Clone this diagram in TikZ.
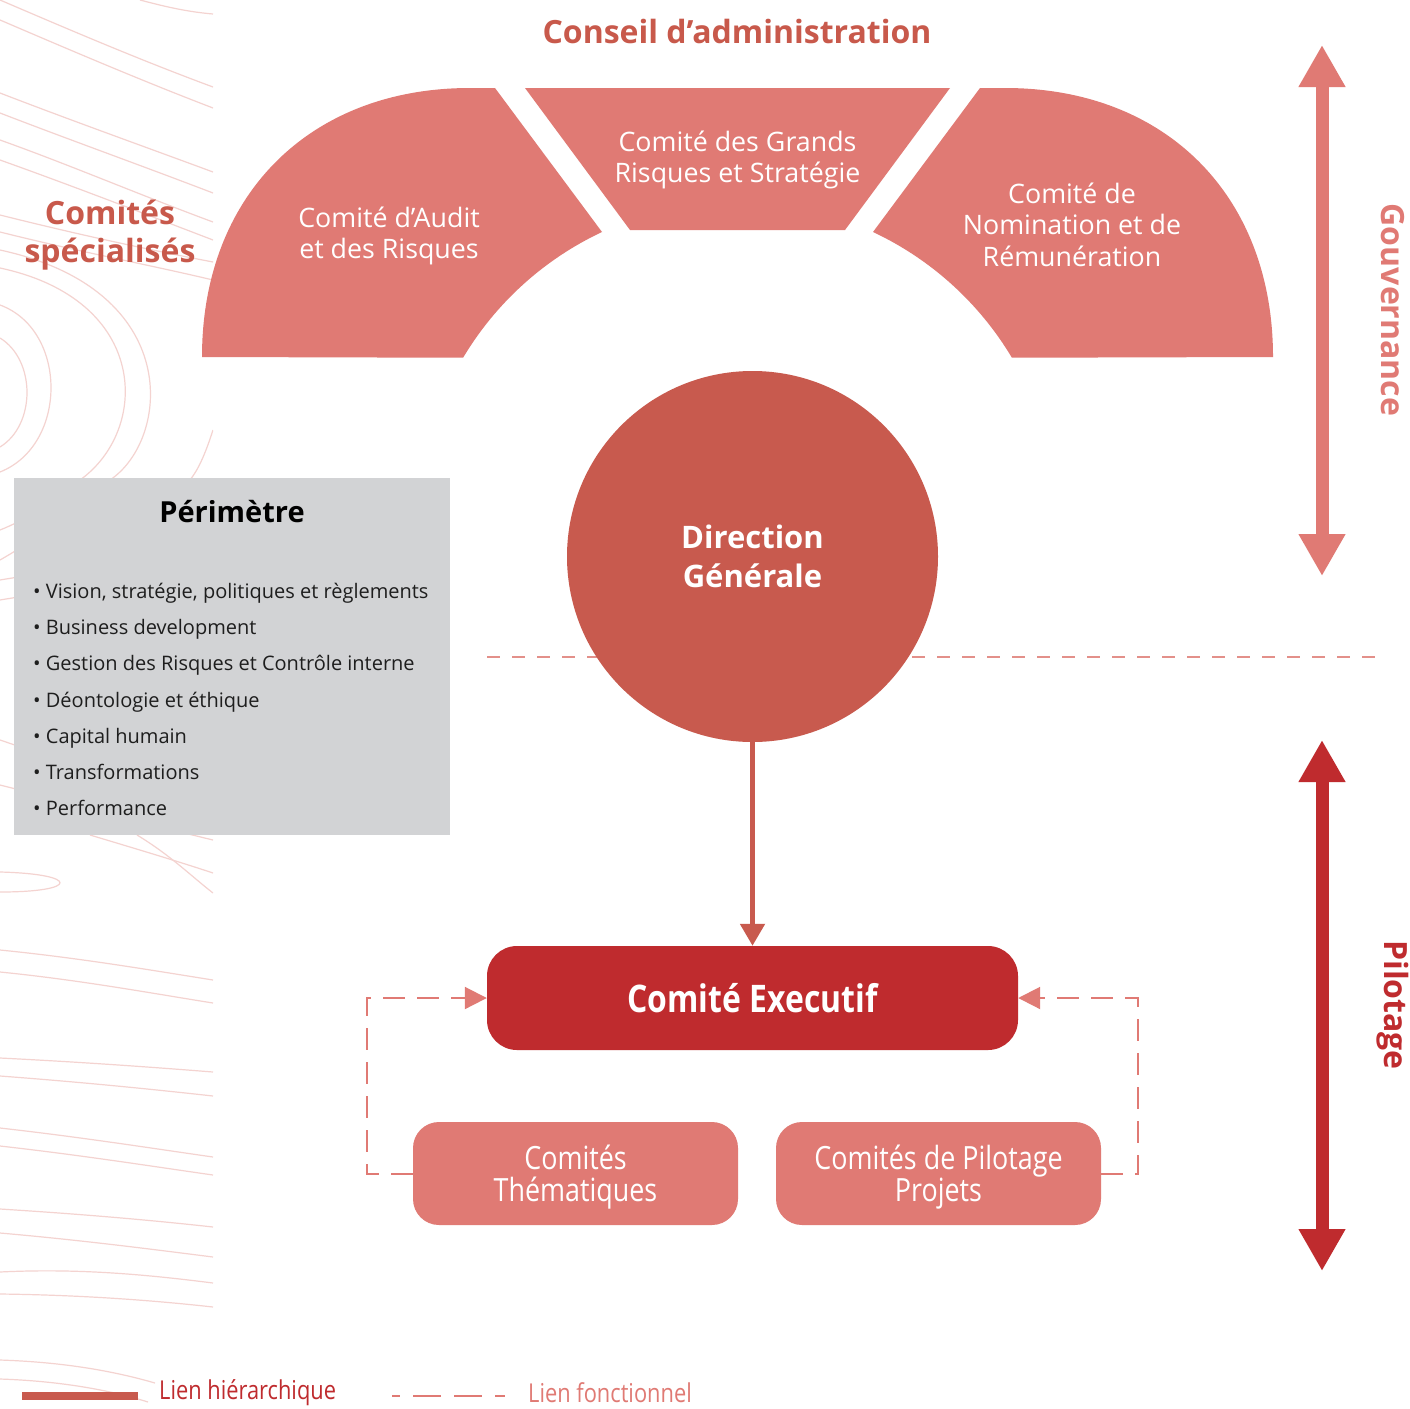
\documentclass[tikz,border=0pt]{standalone}
\usepackage{fontspec}
\setmainfont{Open Sans}
\newfontfamily\condf{Open Sans}[FakeStretch=0.84]
\usetikzlibrary{arrows.meta}
\definecolor{cpink}{HTML}{E07A74}
\definecolor{cdg}{HTML}{C85A4E}
\definecolor{cexec}{HTML}{BF2B2E}
\definecolor{cgrey}{HTML}{D2D3D5}
\definecolor{ccontour}{HTML}{F4D3D0}
\definecolor{ctitle}{HTML}{C8594B}
\definecolor{cdash}{HTML}{E3908A}
\definecolor{ctext}{HTML}{1E1E1E}
\begin{document}
\begin{tikzpicture}[x=1pt,y=-1pt,
  piecetxt/.style={text=white, align=center, inner sep=0, font=\fontsize{26.8}{31.5}\selectfont},
  titletxt/.style={text=ctitle, align=center, inner sep=0, font=\bfseries\fontsize{32}{38}\selectfont},
  itemtxt/.style={text=ctext, anchor=west, inner sep=0, text height=15, text depth=5, font=\fontsize{20}{25}\selectfont},
  subbox/.style={fill=cpink, rounded corners=26, minimum width=325, minimum height=103, inner sep=0},
  subtxt/.style={text=white, align=center, yshift=-4pt, font=\condf\fontsize{32}{32}\selectfont},
  hier/.style={cdg, line width=5, -{Triangle[length=22,width=24]}},
  fonc/.style={cpink, line width=2, dash pattern=on 22 off 12, -{Triangle[length=22,width=22]}},
  bigarrow/.style={line width=13, {Triangle[length=42,width=44]}-{Triangle[length=42,width=44]}},
  sidetxt/.style={rotate=-90, inner sep=0, font=\bfseries\fontsize{32}{38}\selectfont}
]
\useasboundingbox (0,0) rectangle (1410,1408);
\fill[white] (0,0) rectangle (1410,1408);

% decorative contour lines
\begin{scope}[ccontour, line width=1.2]
\clip (0,0) rectangle (213,1408);
\draw (140,0) .. controls (170,8) and (190,12) .. (213,14);
\draw (0,0) .. controls (70,30) and (140,60) .. (213,87);
\draw (0,20) .. controls (70,50) and (140,80) .. (213,108);
\draw (0,93) .. controls (70,120) and (140,145) .. (213,172);
\draw (0,113) .. controls (70,140) and (140,165) .. (213,193);
\draw (0,140) .. controls (70,165) and (140,195) .. (213,222);
\draw (0,160) .. controls (70,185) and (140,212) .. (213,240);
\draw (0,215) .. controls (80,235) and (150,250) .. (213,262);
\draw (0,232) .. controls (80,252) and (150,265) .. (213,280);
\draw (0,338) .. controls (36,360) and (36,425) .. (0,447);
\draw (0,305) .. controls (68,330) and (68,445) .. (0,472);
\draw (0,268) .. controls (150,300) and (150,430) .. (80,480) .. controls (50,505) and (25,520) .. (0,530);
\draw (0,250) .. controls (185,290) and (170,440) .. (110,480) .. controls (70,515) and (35,540) .. (0,560);
\draw (213,430) .. controls (205,455) and (198,470) .. (190,480);
\draw (0,580) .. controls (60,570) and (130,560) .. (213,545);
\draw (0,600) .. controls (60,590) and (130,580) .. (213,570);
\draw (0,740) .. controls (60,760) and (130,790) .. (213,810);
\draw (0,785) .. controls (60,800) and (130,820) .. (213,840);
\draw (90,835) .. controls (140,850) and (180,862) .. (213,873);
\draw (137,835) .. controls (170,855) and (190,875) .. (213,893);
\draw (0,872) .. controls (80,874) and (80,892) .. (0,892);
\draw (0,950) .. controls (80,958) and (150,970) .. (213,980);
\draw (0,972) .. controls (80,980) and (150,993) .. (213,1003);
\draw (0,1058) .. controls (80,1062) and (150,1067) .. (213,1072);
\draw (0,1076) .. controls (80,1082) and (150,1089) .. (213,1096);
\draw (0,1128) .. controls (80,1137) and (150,1148) .. (213,1157);
\draw (0,1146) .. controls (80,1155) and (150,1166) .. (213,1175);
\draw (0,1209) .. controls (80,1214) and (150,1220) .. (213,1227);
\draw (0,1233) .. controls (80,1240) and (150,1249) .. (213,1257);
\draw (0,1272) .. controls (80,1268) and (150,1275) .. (213,1283);
\draw (0,1294) .. controls (80,1295) and (150,1300) .. (213,1307);
\draw (0,1360) .. controls (60,1362) and (110,1370) .. (155,1383);
\draw (0,1379) .. controls (60,1381) and (110,1390) .. (148,1402);
\end{scope}

% arch pieces
\fill[cpink] (202,357) .. controls (202,196) and (309,88) .. (470,88) -- (495,88) -- (602,232)
   arc[start angle=-115.12, end angle=-149.17, radius=320] -- cycle;
\fill[cpink] (525,88) -- (950,88) -- (845,230) -- (630,230) -- cycle;
\fill[cpink] (1273,357) .. controls (1273,196) and (1166,88) .. (1005,88) -- (980,88) -- (873,232)
   arc[start angle=-64.88, end angle=-30.83, radius=320] -- cycle;

\node[titletxt] (conseil) at (737,31) {Conseil d’administration};
\node[titletxt] (specialises) at (110,235) {Comités\\spécialisés};
\node[piecetxt] (audit) at (389,236) {Comité d’Audit\\et des Risques};
\node[piecetxt] (grands) at (737.5,160) {Comité des Grands\\Risques et Stratégie};
\node[piecetxt] (nomination) at (1072,224.5) {Comité de\\Nomination et de\\Rémunération};

% separation line
\coordinate (sepA) at (487,657);
\coordinate (sepB) at (1385,657);
\draw[cdash, line width=1.5, dash pattern=on 13 off 12] (sepA) -- (sepB);

% Direction generale
\node[circle, fill=cdg, minimum size=371, inner sep=0, text=white, align=center,
      font=\bfseries\fontsize{31}{39}\selectfont] (dg) at (752.5,556.5) {Direction\\Générale};

% Perimetre
\node[fill=cgrey, minimum width=436, minimum height=357, inner sep=0] (perim) at (232,656.5) {};
\node[text=black, inner sep=0, font=\bfseries\fontsize{29}{34}\selectfont] (perimtitle) at (232,512) {Périmètre};
\node[itemtxt] (i1) at (33,593) {• Vision, stratégie, politiques et règlements};
\node[itemtxt] (i2) at (33,629) {• Business development};
\node[itemtxt] (i3) at (33,665) {• Gestion des Risques et Contrôle interne};
\node[itemtxt] (i4) at (33,702) {• Déontologie et éthique};
\node[itemtxt] (i5) at (33,738) {• Capital humain};
\node[itemtxt] (i6) at (33,774) {• Transformations};
\node[itemtxt] (i7) at (33,810) {• Performance};

% Comite executif
\node[fill=cexec, rounded corners=30, minimum width=531, minimum height=104, inner sep=0,
      text=white, font=\condf\bfseries\fontsize{38}{44}\selectfont] (ex) at (752.5,998) {Comité Executif};
\node[subbox, label={[subtxt]center:{Comités\\Thématiques}}] (ct) at (575.5,1173.5) {};
\node[subbox, label={[subtxt]center:{Comités de Pilotage\\Projets}}] (cpp) at (938.5,1173.5) {};

\draw[hier] (dg.south) -- (ex.north);
\draw[fonc] (ct.west) -- ++(-46,0) |- (ex.west);
\draw[fonc] (cpp.east) -- ++(37,0) |- (ex.east);

% side arrows
\coordinate (g1) at (1322,45);
\coordinate (g2) at (1322,576);
\coordinate (p1) at (1322,740);
\coordinate (p2) at (1322,1271);
\draw[bigarrow, cpink] (g1) -- (g2);
\draw[bigarrow, cexec] (p1) -- (p2);
\node[sidetxt, text=cpink] (gouv) at (1393,310) {Gouvernance};
\node[sidetxt, text=cexec] (pil) at (1393,1005) {Pilotage};

% legend
\coordinate (lh1) at (22,1396);
\coordinate (lh2) at (138,1396);
\draw[cdg, line width=8] (lh1) -- (lh2);
\node[anchor=west, inner sep=0, text=cexec, font=\condf\fontsize{26}{30}\selectfont] (lhtxt) at (159,1393) {Lien hiérarchique};
\coordinate (lf1) at (392,1396);
\coordinate (lf2) at (508,1396);
\draw[cpink, line width=2, dash pattern=on 8 off 13 on 28 off 13 on 28 off 13 on 10] (lf1) -- (lf2);
\node[anchor=west, inner sep=0, text=cpink, font=\condf\fontsize{26}{30}\selectfont] (lftxt) at (528,1393) {Lien fonctionnel};
\end{tikzpicture}
\end{document}
